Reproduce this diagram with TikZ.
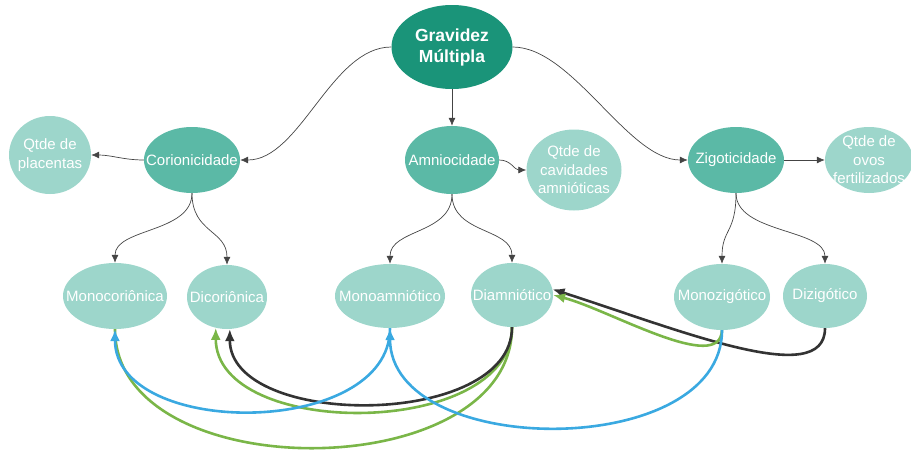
\documentclass[tikz,border=0pt]{standalone}
\usepackage{fontspec}
\setmainfont{Liberation Sans}
\usetikzlibrary{arrows.meta,shapes.geometric}
\definecolor{cdark}{HTML}{1A9479}
\definecolor{cmid}{HTML}{5BB9A6}
\definecolor{clight}{HTML}{9DD6CB}
\definecolor{cblue}{HTML}{3AA9E1}
\definecolor{cgreen}{HTML}{7AB648}
\definecolor{cblack}{HTML}{333333}
\definecolor{cthin}{HTML}{444444}
\tikzset{
  bubble/.style={ellipse, inner sep=0pt},
  txt/.style={text=white, align=center, inner sep=0pt,
    font=\fontsize{15}{18.5}\selectfont},
  toptxt/.style={txt, font=\bfseries\fontsize{17.5}{21}\selectfont},
  topbubble/.style={bubble, fill=cdark},
  midbubble/.style={bubble, fill=cmid},
  lightbubble/.style={bubble, fill=clight},
  thinedge/.style={draw=cthin, line width=0.7pt, -{Latex[length=8pt,width=7pt]}},
  thickedge/.style={line width=2.6pt, -{Latex[length=12pt,width=10pt]}},
  thickplain/.style={line width=2.6pt}
}
\begin{document}
\begin{tikzpicture}[x=1pt,y=-1pt]
\useasboundingbox (0,0) rectangle (911,450);
% nodes
\node[topbubble, minimum width=121pt, minimum height=84pt,
  label={[toptxt]center:Gravidez\\Múltipla}] (gm) at (452,47) {};
\node[midbubble, minimum width=96pt, minimum height=66pt,
  label={[txt]center:Corionicidade}] (cor) at (192,160) {};
\node[midbubble, minimum width=94pt, minimum height=68pt,
  label={[txt]center:Amniocidade}] (amn) at (452,160) {};
\node[midbubble, minimum width=96pt, minimum height=66pt,
  label={[txt]center:Zigoticidade}] (zig) at (736,160) {};
\node[lightbubble, minimum width=82pt, minimum height=78pt,
  label={[txt]center:Qtde de\\placentas}] (qp) at (50,155) {};
\node[lightbubble, minimum width=95pt, minimum height=81pt,
  label={[txt]center:Qtde de\\cavidades\\amnióticas}] (qc) at (574,170) {};
\node[lightbubble, minimum width=88pt, minimum height=66pt,
  label={[txt]center:Qtde de\\ovos\\fertilizados}] (qo) at (869,160) {};
\node[lightbubble, minimum width=104pt, minimum height=66pt,
  label={[txt]center:Monocoriônica}] (moc) at (115,296) {};
\node[lightbubble, minimum width=80pt, minimum height=64pt,
  label={[txt]center:Dicoriônica}] (dic) at (227,297) {};
\node[lightbubble, minimum width=110pt, minimum height=64pt,
  label={[txt]center:Monoamniótico}] (moa) at (390,296) {};
\node[lightbubble, minimum width=82pt, minimum height=64pt,
  label={[txt]center:Diamniótico}] (dia) at (512,295) {};
\node[lightbubble, minimum width=96pt, minimum height=66pt,
  label={[txt]center:Monozigótico}] (mz) at (722,297) {};
\node[lightbubble, minimum width=84pt, minimum height=64pt,
  label={[txt]center:Dizigótico}] (dz) at (825,296) {};
% thin connectors
\draw[thinedge] (gm.west) .. controls +(-60,0) and +(60,0) .. (cor.east);
\draw[thinedge] (gm.south) -- (amn.north);
\draw[thinedge] (gm.east) .. controls +(60,0) and +(-60,0) .. (zig.west);
\draw[thinedge] (cor.west) .. controls +(-20,0) and +(20,0) .. (qp.east);
\draw[thinedge] (amn.east) .. controls +(12,0) and +(-12,0) .. (qc.west);
\draw[thinedge] (zig.east) -- (qo.west);
\draw[thinedge] (cor.south) .. controls +(0,40) and +(0,-35) .. (moc.north);
\draw[thinedge] (cor.south) .. controls +(0,40) and +(0,-35) .. (dic.north);
\draw[thinedge] (amn.south) .. controls +(0,40) and +(0,-35) .. (moa.north);
\draw[thinedge] (amn.south) .. controls +(0,40) and +(0,-35) .. (dia.north);
\draw[thinedge] (zig.south) .. controls +(0,40) and +(0,-35) .. (mz.north);
\draw[thinedge] (zig.south) .. controls +(0,40) and +(0,-35) .. (dz.north);
% coloured connectors
\draw[thickplain, draw=cgreen] (dia.south) .. controls +(0,160) and +(0,160) .. (moc.south);
\draw[thickedge, draw=cblack] (dz.south) .. controls (825,390) and (680,330) .. (dia.8);
\draw[thickedge, draw=cgreen] (mz.south) .. controls (720,375) and (610,310) .. (dia.east);
\draw[thickedge, draw=cgreen] (dia.south) .. controls +(0,112) and +(0,112) .. (dic.250);
\draw[thickedge, draw=cblack] (dia.south) .. controls +(0,102) and +(0,100) .. (dic.275);
\draw[thickedge, draw=cblue] (moa.south) .. controls +(0,110) and +(0,110) .. (moc.south);
\draw[thickedge, draw=cblue] (mz.south) .. controls +(0,131) and +(0,131) .. (moa.south);
\end{tikzpicture}
\end{document}
